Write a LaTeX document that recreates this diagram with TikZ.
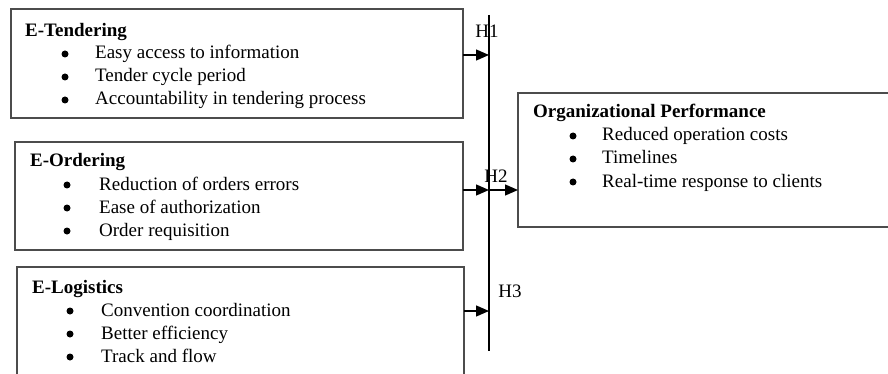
\documentclass[tikz,border=0pt]{standalone}
\usepackage{fontspec}
\setmainfont{Liberation Serif}
\usetikzlibrary{arrows.meta}
\begin{document}
\begin{tikzpicture}[x=1pt,y=-1pt,
  box/.style={draw=black!70,line width=1.2pt},
  title/.style={anchor=base west,inner sep=0pt,font=\fontsize{19}{22}\selectfont\bfseries},
  item/.style={anchor=base west,inner sep=0pt,font=\fontsize{19}{22}\selectfont},
  bul/.style={circle,fill=black,inner sep=0pt,minimum size=7pt},
  hlab/.style={anchor=center,inner sep=0pt,font=\fontsize{19}{22}\selectfont},
  arr/.style={line width=1.3pt,-{Triangle[length=13pt,width=11pt]}},
  vline/.style={line width=1.5pt}]
\useasboundingbox (0,0) rectangle (888,374);
\clip (0,0) rectangle (888,374);
% boxes
\draw[box] (11,9) rectangle (463,118);
\coordinate (b1) at (463,55);
\draw[box] (15,142) rectangle (463,250);
\coordinate (b2) at (463,190);
\draw[box] (17,267) rectangle (464,390);
\coordinate (b3) at (464,311);
\draw[box] (518,93) rectangle (895,227);
\coordinate (ob) at (518,190);
% vertical line
\coordinate (vt) at (489,15);
\coordinate (vb) at (489,351);
\draw[vline] (vt) -- (vb);
\coordinate (v1) at (489,55);
\coordinate (v2) at (489,190);
\coordinate (v3) at (489,311);
\draw[arr] (b1) -- (v1);
\draw[arr] (b2) -- (v2);
\draw[arr] (b3) -- (v3);
\draw[arr] (v2) -- (ob);
% labels
\node[hlab] (h1) at (487,31) {H1};
\node[hlab] (h2) at (496,176) {H2};
\node[hlab] (h3) at (510,291) {H3};
% box 1 text
\node[title] (t1) at (25,37) {E-Tendering};
\foreach \y/\t [count=\i] in {59/Easy access to information,82/Tender cycle period,105/Accountability in tendering process}{
  \node[bul] (b1b\i) at (65,\y-5) {};
  \node[item] (b1i\i) at (95,\y) {\t};
}
% box 2 text
\node[title] (t2) at (30,167) {E-Ordering};
\foreach \y/\t [count=\i] in {190/Reduction of orders errors,213/Ease of authorization,236/Order requisition}{
  \node[bul] (b2b\i) at (67,\y-5) {};
  \node[item] (b2i\i) at (99,\y) {\t};
}
% box 3 text
\node[title] (t3) at (32,293) {E-Logistics};
\foreach \y/\t [count=\i] in {316/Convention coordination,339/Better efficiency,362/Track and flow}{
  \node[bul] (b3b\i) at (70,\y-5) {};
  \node[item] (b3i\i) at (101,\y) {\t};
}
% org box text
\node[title] (t4) at (533,118) {Organizational Performance};
\foreach \y/\t [count=\i] in {141/Reduced operation costs,164/Timelines,187/Real-time response to clients}{
  \node[bul] (b4b\i) at (573,\y-5) {};
  \node[item] (b4i\i) at (602,\y) {\t};
}
\end{tikzpicture}
\end{document}
